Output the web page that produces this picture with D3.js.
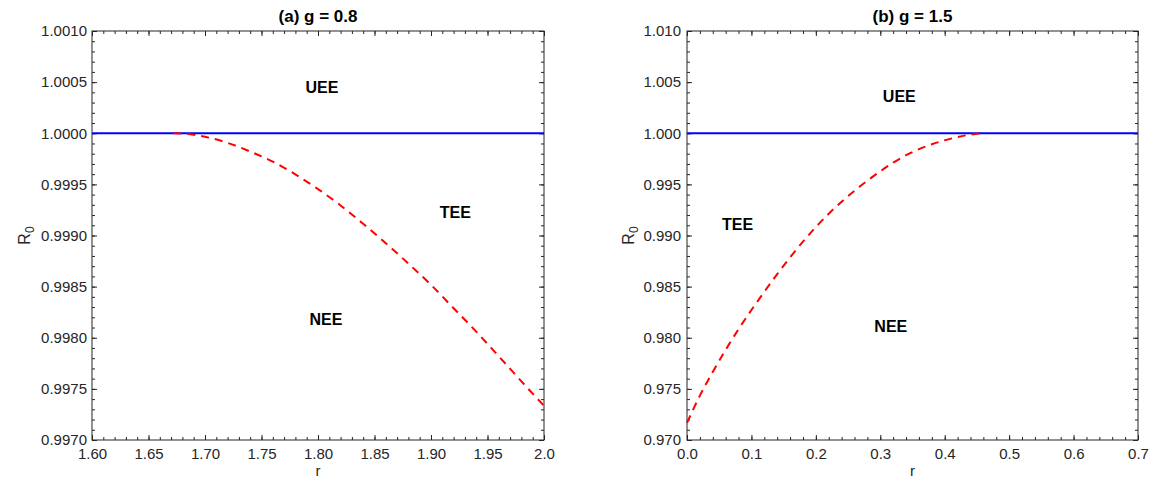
<!DOCTYPE html>
<html>
<head>
<meta charset="utf-8">
<title></title>
<script src="https://cdn.jsdelivr.net/npm/d3@7/dist/d3.min.js"></script>
<style>
  body{margin:0;background:#fff;}
  text{font-family:"Liberation Sans",Arial,Helvetica,sans-serif;}
</style>
</head>
<body>
<script>
// panel (a) g = 0.8
const rA=[1.672,1.68,1.69,1.70,1.72,1.74,1.76,1.78,1.80,1.82,1.84,1.86,1.88,1.90,1.92,1.94,1.96,1.98,2.00];
const r0A=[1.00000,0.999997,0.999986,0.999966,0.999906,0.999821,0.999723,0.999597,0.999454,0.999294,0.999114,0.998925,0.998725,0.998517,0.998289,0.998060,0.997819,0.997574,0.997334];
const xTicksA=[1.60,1.65,1.70,1.75,1.80,1.85,1.90,1.95,2.0];
const xLabelsA=['1.60','1.65','1.70','1.75','1.80','1.85','1.90','1.95','2.0'];
const yTicksA=[0.9970,0.9975,0.9980,0.9985,0.9990,0.9995,1.0000,1.0005,1.0010];

// panel (b) g = 1.5
const rB=[0,0.02,0.04,0.06,0.08,0.10,0.12,0.14,0.16,0.18,0.20,0.22,0.24,0.26,0.28,0.30,0.32,0.34,0.36,0.38,0.40,0.42,0.44,0.46];
const r0B=[0.97168,0.97434,0.97665,0.97882,0.98084,0.98271,0.98450,0.98622,0.98786,0.98940,0.99083,0.99213,0.99331,0.99438,0.99536,0.99628,0.99712,0.99785,0.99844,0.99892,0.99931,0.99963,0.99987,1.00000];
const xTicksB=[0,0.1,0.2,0.3,0.4,0.5,0.6,0.7];
const xLabelsB=['0.0','0.1','0.2','0.3','0.4','0.5','0.6','0.7'];
const yTicksB=[0.970,0.975,0.980,0.985,0.990,0.995,1.000,1.005,1.010];

let svg=d3.select('body').append('svg').attr('width',1153).attr('height',481);

function drawPanel(p){
  let g=svg.append('g').attr('transform',`translate(${p.left},${p.top})`);
  let w=p.width, h=p.height;
  let x=d3.scaleLinear().domain(p.xDom).range([0,w]);
  let y=d3.scaleLinear().domain(p.yDom).range([h,0]);
  let axCol='#262626';

  // minor ticks (inside, all four sides)
  let xMinor=d3.range(p.xDom[0],p.xDom[1]+p.xMinStep/2,p.xMinStep);
  let yMinor=d3.range(p.yDom[0],p.yDom[1]+p.yMinStep/2,p.yMinStep);
  g.append('g').attr('transform',`translate(0,${h})`).call(d3.axisBottom(x).tickValues(xMinor).tickSize(-3).tickFormat(''));
  g.append('g').call(d3.axisTop(x).tickValues(xMinor).tickSize(-3).tickFormat(''));
  g.append('g').call(d3.axisLeft(y).tickValues(yMinor).tickSize(-3).tickFormat(''));
  g.append('g').attr('transform',`translate(${w},0)`).call(d3.axisRight(y).tickValues(yMinor).tickSize(-3).tickFormat(''));

  // major ticks
  g.append('g').attr('class','ax').attr('transform',`translate(0,${h})`)
    .call(d3.axisBottom(x).tickValues(p.xTicks).tickSize(-5).tickPadding(8).tickFormat((d,i)=>p.xLabels[i]));
  g.append('g').call(d3.axisTop(x).tickValues(p.xTicks).tickSize(-5).tickFormat(''));
  g.append('g').attr('class','ax')
    .call(d3.axisLeft(y).tickValues(p.yTicks).tickSize(-5).tickPadding(p.yPad).tickFormat(d3.format(p.yFmt)));
  g.append('g').attr('transform',`translate(${w},0)`).call(d3.axisRight(y).tickValues(p.yTicks).tickSize(-5).tickFormat(''));

  g.selectAll('.domain').remove();
  g.selectAll('.tick line').attr('stroke',axCol);
  g.selectAll('.ax text').attr('fill',axCol).style('font-size','15px');

  g.append('rect').attr('width',w).attr('height',h).attr('fill','none').attr('stroke',axCol).attr('stroke-width',1);

  // blue line R0 = 1
  g.append('line').attr('x1',x(p.xDom[0])).attr('x2',x(p.xDom[1]))
    .attr('y1',y(1)).attr('y2',y(1)).attr('stroke','#0000ff').attr('stroke-width',2);

  // red dashed curve
  let line=d3.line().x((d,i)=>x(p.r[i])).y(d=>y(d)).curve(d3.curveMonotoneX);
  g.append('path').attr('d',line(p.r0)).attr('fill','none')
    .attr('stroke','#ff0000').attr('stroke-width',2).attr('stroke-dasharray','8,6');

  // title
  g.append('text').attr('x',w/2).attr('y',-9).attr('text-anchor','middle')
    .style('font-size','17px').style('font-weight','bold').attr('fill','#000').text(p.title);

  // axis labels
  g.append('text').attr('x',w/2).attr('y',h+36).attr('text-anchor','middle')
    .style('font-size','15px').attr('fill',axCol).text('r');
  let yl=g.append('text').attr('transform',`translate(${p.ylabX},${h/2}) rotate(-90)`)
    .attr('text-anchor','middle').style('font-size','16px').attr('fill',axCol);
  yl.append('tspan').text('R');
  yl.append('tspan').attr('dy',4).style('font-size','12px').text('0');

  // region labels
  p.regions.forEach(d=>{
    g.append('text').attr('x',x(d.x)).attr('y',y(d.y)).attr('dy','0.35em')
      .attr('text-anchor','middle').style('font-size','16px').style('font-weight','bold')
      .attr('fill','#000').text(d.t);
  });
}

drawPanel({
  left:92, top:31, width:452, height:409,
  xDom:[1.6,2.0], yDom:[0.997,1.001], xMinStep:0.01, yMinStep:0.0001,
  xTicks:xTicksA, xLabels:xLabelsA, yTicks:yTicksA, yFmt:'.4f', yPad:5, ylabX:-62,
  r:rA, r0:r0A, title:'(a) g = 0.8',
  regions:[{t:'UEE',x:1.8035,y:1.00045},{t:'TEE',x:1.9215,y:0.99923},{t:'NEE',x:1.8071,y:0.99818}]
});
drawPanel({
  left:687, top:31, width:451, height:409,
  xDom:[0,0.7], yDom:[0.97,1.01], xMinStep:0.02, yMinStep:0.001,
  xTicks:xTicksB, xLabels:xLabelsB, yTicks:yTicksB, yFmt:'.3f', yPad:6, ylabX:-53,
  r:rB, r0:r0B, title:'(b) g = 1.5',
  regions:[{t:'UEE',x:0.3295,y:1.0036},{t:'TEE',x:0.0785,y:0.9911},{t:'NEE',x:0.3163,y:0.9811}]
});
</script>
</body>
</html>
